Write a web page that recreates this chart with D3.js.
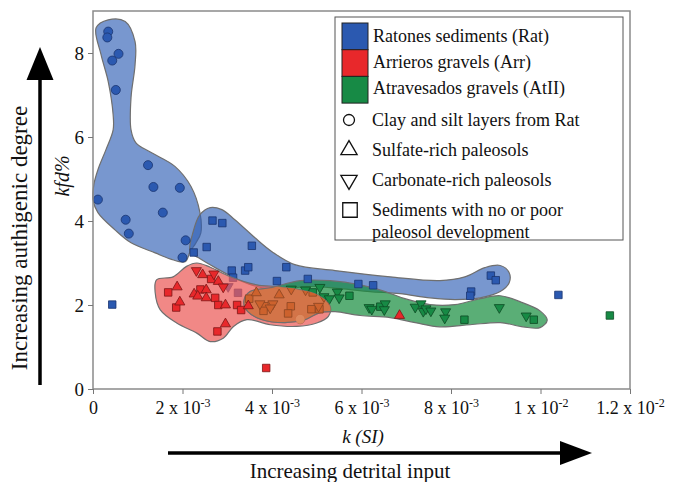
<!DOCTYPE html>
<html lang="en">
<head>
<meta charset="UTF-8">
<title>kfd% vs k</title>
<style>
    body { margin: 0; background: #fff; }
    svg { display: block; }
    svg text { font-family: "Liberation Serif", "Times New Roman", serif; fill: #111; }
    .hull { stroke: #6f6f6f; stroke-width: 1.2; }
</style>
</head>
<body>
<div id="chart"></div>
<script src="https://cdn.jsdelivr.net/npm/d3@7"></script>
<script>
// k in units of 10^-3 SI, kfd in %
const ratCircles = [[0.34,8.51],[0.32,8.37],[0.57,7.98],[0.43,7.82],[0.51,7.12],[1.23,5.33],[1.35,4.81],
    [1.94,4.79],[0.11,4.51],[1.56,4.20],[0.73,4.03],[0.80,3.70],[2.07,3.54],[2.00,3.13]];
const ratSquares = [[0.43,2.01],[2.67,4.01],[2.89,3.95],[2.54,3.38],[2.25,3.25],[3.55,3.41],[3.10,2.82],
    [3.40,2.82],[3.47,2.90],[4.32,2.90],[4.11,2.57],[4.80,2.62],[5.93,2.50],[6.26,2.47],[8.89,2.70],
    [9.00,2.59],[8.45,2.32],[8.43,2.22],[10.40,2.24],[3.13,2.65],[3.24,2.29]];
const ratDown = [[3.02,2.44]];

const arrSquares = [[1.68,2.30],[1.86,1.94],[2.40,2.37],[2.64,2.62],[2.73,2.17],[2.80,2.00],[3.22,2.00],
    [3.31,1.88],[2.78,1.37],[3.87,0.50]];
const arrUp = [[1.88,2.43],[1.94,2.07],[2.26,2.26],[2.34,2.21],[2.45,2.72],[2.53,2.36],[2.53,2.17],
    [2.80,2.56],[2.96,2.00],[2.96,1.55],[3.47,1.98],[6.85,1.75]];
const arrDown = [[2.31,2.82],[2.70,2.74],[2.91,2.43]];

const atSquares = [[4.91,2.30],[5.73,2.22],[6.42,1.96],[8.30,1.65],[9.85,1.65],[11.55,1.75],
    [3.49,2.15],[3.83,1.97],[3.81,1.86],[4.42,1.97],[4.36,1.80],[4.88,1.90],[5.06,1.90]];
const atDown = [[4.43,2.38],[4.75,2.36],[5.07,2.42],[5.16,2.20],[5.28,2.15],[5.46,2.31],[5.50,2.17],
    [6.17,1.94],[6.23,1.90],[6.53,2.03],[6.51,1.89],[7.20,1.95],[7.33,2.03],[7.38,1.85],[7.44,1.91],
    [7.55,1.86],[7.88,1.84],[7.86,1.69],[9.08,1.94],[9.68,1.74],[3.73,2.03],[4.02,2.03],[3.96,1.93],[5.04,1.97]];
const atUp = [[3.65,2.29],[4.16,2.24]];
const atCircles = [[4.63,1.66]];

// group outlines
const ratHullClay = [[0.07,8.60],[0.34,8.79],[0.72,8.75],[0.94,8.27],[0.94,7.72],[0.85,6.94],[0.85,6.17],
    [0.96,5.86],[1.30,5.63],[1.83,5.30],[2.19,4.82],[2.39,4.20],[2.41,3.72],[2.30,3.48],[2.17,3.27],
    [2.06,3.03],[1.72,3.10],[1.39,3.24],[0.85,3.48],[0.49,3.79],[0.11,4.20],[0.0,4.51],[0.02,4.87],
    [0.11,5.22],[0.29,5.70],[0.45,6.17],[0.45,6.53],[0.34,7.32],[0.18,7.96]];
const ratHullSed = [[2.17,3.27],[2.24,3.75],[2.39,4.15],[2.62,4.32],[2.88,4.27],[3.17,4.03],[3.62,3.60],
    [4.00,3.27],[4.51,2.96],[5.41,2.82],[6.64,2.67],[7.75,2.58],[8.31,2.67],[8.76,2.89],[9.10,2.94],
    [9.30,2.77],[9.30,2.53],[9.10,2.32],[8.65,2.17],[8.09,2.13],[7.53,2.17],[6.86,2.27],[6.19,2.32],
    [5.52,2.39],[4.85,2.44],[4.29,2.39],[3.78,2.41],[3.29,2.58],[2.73,2.89],[2.35,3.13]];
const arrHull = [[1.42,2.60],[1.79,2.67],[2.09,2.92],[2.32,3.00],[2.62,2.90],[3.06,2.68],[3.66,2.48],
    [4.11,2.44],[4.63,2.36],[5.00,2.25],[5.30,1.97],[5.26,1.73],[5.00,1.57],[4.55,1.49],[3.96,1.53],
    [3.44,1.65],[3.14,1.49],[2.91,1.21],[2.62,1.13],[2.32,1.33],[1.87,1.57],[1.50,1.89],[1.39,2.29]];
const atHull = [[3.37,2.08],[3.51,2.32],[3.96,2.41],[4.63,2.58],[5.30,2.58],[5.97,2.48],[6.53,2.32],
    [6.97,2.15],[7.53,2.01],[8.09,2.01],[8.65,2.15],[9.10,2.22],[9.54,2.08],[9.99,1.86],[10.15,1.64],
    [9.99,1.46],[9.61,1.48],[9.10,1.58],[8.43,1.53],[7.75,1.48],[7.20,1.58],[6.64,1.70],[5.97,1.75],
    [5.41,1.84],[5.07,1.82],[4.74,1.65],[4.29,1.58],[3.78,1.65],[3.46,1.84]];

const xTicks = [0, 2, 4, 6, 8, 10, 12];
const xTickLabels = [["0", ""], ["2 x 10", "-3"], ["4 x 10", "-3"], ["6 x 10", "-3"], ["8 x 10", "-3"],
    ["1 x 10", "-2"], ["1.2 x 10", "-2"]];
const yTicks = [0, 2, 4, 6, 8];

const legendGroups = ["Ratones sediments (Rat)", "Arrieros gravels (Arr)", "Atravesados gravels (AtII)"];
const legendShapes = ["Clay and silt layers from Rat", "Sulfate-rich paleosols", "Carbonate-rich paleosols",
    "Sediments with no or poor|paleosol development"];

const col = {
    rat: {hull: "rgb(47,95,181)", pt: "#2b59b0", st: "#1a3570", op: 0.65},
    arr: {hull: "rgb(236,90,88)", pt: "#e8282b", st: "#7c1515", op: 0.72},
    at:  {hull: "rgb(20,140,60)", pt: "#178a45", st: "#0d4a23", op: 0.7},
    mix: {hull: "rgb(218,118,62)", pt: "rgb(205,98,45)", st: "rgb(140,70,35)", op: 0.7}
};

const svg = d3.select("#chart").append("svg")
    .attr("width", 673)
    .attr("height", 482);

const x = d3.scaleLinear().domain([0, 12]).range([93, 630]);
const y = d3.scaleLinear().domain([0, 9]).range([389, 11]);

const hullLine = d3.line()
    .x(d => x(d[0]))
    .y(d => y(d[1]))
    .curve(d3.curveCatmullRomClosed.alpha(0.5));

function drawHull(pts, c) {
    return svg.append("path")
        .attr("class", "hull")
        .attr("d", hullLine(pts))
        .attr("fill", c.hull)
        .attr("fill-opacity", c.op);
}

const sym = {
    circle: d3.symbol().type(d3.symbolCircle).size(64),
    square: d3.symbol().type(d3.symbolSquare).size(56),
    tri: d3.symbol().type(d3.symbolTriangle).size(44)
};

function drawPoints(pts, shape, c, down) {
    const g = svg.append("g");
    g.selectAll("path")
        .data(pts)
        .enter().append("path")
        .attr("d", sym[shape]())
        .attr("transform", d => "translate(" + x(d[0]) + "," + y(d[1]) + ")" + (down ? " rotate(180)" : ""))
        .attr("fill", c.pt)
        .attr("stroke", c.st)
        .attr("stroke-width", 0.8);
    return g;
}

svg.append("defs").append("clipPath")
    .attr("id", "arrClip")
    .append("path")
    .attr("d", hullLine(arrHull));

// layers: Rat + AtII outlines, their points, then Arr on top
drawHull(ratHullClay, col.rat);
drawHull(ratHullSed, col.rat);
drawHull(atHull, col.at);

drawPoints(ratCircles, "circle", col.rat);
drawPoints(ratSquares, "square", col.rat);
drawPoints(ratDown, "tri", col.rat, true);
drawPoints(atCircles, "circle", col.at);
drawPoints(atSquares, "square", col.at);
drawPoints(atDown, "tri", col.at, true);
drawPoints(atUp, "tri", col.at);

drawHull(arrHull, col.arr);
// Arr / AtII overlap shows orange
drawHull(atHull, col.mix).attr("clip-path", "url(#arrClip)");
drawPoints(atSquares, "square", col.mix).attr("clip-path", "url(#arrClip)");
drawPoints(atDown, "tri", col.mix, true).attr("clip-path", "url(#arrClip)");
drawPoints(atUp, "tri", col.mix).attr("clip-path", "url(#arrClip)");
drawPoints(atCircles, "circle", {pt: "rgb(222,138,95)", st: "none"}).attr("clip-path", "url(#arrClip)");

drawPoints(arrSquares, "square", col.arr);
drawPoints(arrUp, "tri", col.arr);
drawPoints(arrDown, "tri", col.arr, true);

// frame
svg.append("rect")
    .attr("x", x(0)).attr("y", y(9))
    .attr("width", x(12) - x(0)).attr("height", y(0) - y(9))
    .attr("fill", "none")
    .attr("stroke", "#8a8a8a")
    .attr("stroke-width", 1.5);

const yAxis = svg.append("g")
    .attr("transform", "translate(" + x(0) + ",0)")
    .call(d3.axisLeft(y).tickValues(yTicks).tickSize(5).tickPadding(4));
yAxis.select(".domain").remove();
yAxis.selectAll(".tick line").attr("stroke", "#777");
yAxis.selectAll(".tick text")
    .style("font-family", '"Liberation Serif", serif')
    .style("font-size", "19px");

const xAxis = svg.append("g")
    .attr("transform", "translate(0," + y(0) + ")")
    .call(d3.axisBottom(x).tickValues(xTicks).tickSize(5).tickFormat(""));
xAxis.select(".domain").remove();
xAxis.selectAll(".tick line").attr("stroke", "#777");
xAxis.selectAll(".tick text").each(function(d, i) {
    const t = d3.select(this)
        .style("font-family", '"Liberation Serif", serif')
        .style("font-size", "18px")
        .attr("dy", "0.95em");
    t.append("tspan").text(xTickLabels[i][0]);
    if (xTickLabels[i][1]) {
        t.append("tspan").attr("dy", -7).style("font-size", "12px").text(xTickLabels[i][1]);
    }
});

// axis titles
svg.append("text")
    .attr("x", 363).attr("y", 443)
    .attr("text-anchor", "middle")
    .style("font-size", "19px")
    .style("font-style", "italic")
    .text("k (SI)");

svg.append("text")
    .attr("transform", "translate(69,176) rotate(-90)")
    .attr("text-anchor", "middle")
    .style("font-size", "20px")
    .style("font-style", "italic")
    .text("kfd%");

svg.append("text")
    .attr("transform", "translate(27,238) rotate(-90)")
    .attr("text-anchor", "middle")
    .style("font-size", "23px")
    .text("Increasing authigenic degree");

svg.append("text")
    .attr("x", 350).attr("y", 478)
    .attr("text-anchor", "middle")
    .style("font-size", "21px")
    .text("Increasing detrital input");

// arrows
svg.append("line").attr("x1", 40).attr("y1", 385).attr("x2", 40).attr("y2", 75)
    .attr("stroke", "#000").attr("stroke-width", 3.5);
svg.append("path").attr("d", "M40,47 L26.5,80 L53.5,80 Z").attr("fill", "#000");

svg.append("line").attr("x1", 168).attr("y1", 453).attr("x2", 565).attr("y2", 453)
    .attr("stroke", "#000").attr("stroke-width", 3.5);
svg.append("path").attr("d", "M592,453 L560,441 L560,465 Z").attr("fill", "#000");

// legend
const legend = svg.append("g");
legend.append("rect")
    .attr("x", 335).attr("y", 17).attr("width", 288).attr("height", 223)
    .attr("fill", "#fff").attr("stroke", "#555").attr("stroke-width", 1);

const groupCols = [col.rat.pt, col.arr.pt, col.at.pt];
legendGroups.forEach((g, i) => {
    legend.append("rect")
        .attr("x", 342).attr("y", 23 + i * 26.7)
        .attr("width", 26).attr("height", 26.7)
        .attr("fill", groupCols[i]).attr("stroke", "#222").attr("stroke-width", 1);
    legend.append("text")
        .attr("x", 373).attr("y", 42 + i * 26)
        .style("font-size", "18px")
        .text(g);
});

const shapeY = [120, 150, 180, 210];
const legSym = [
    d3.symbol().type(d3.symbolCircle).size(95)(),
    d3.symbol().type(d3.symbolTriangle).size(115)(),
    d3.symbol().type(d3.symbolTriangle).size(115)(),
    d3.symbol().type(d3.symbolSquare).size(210)()
];
legendShapes.forEach((s, i) => {
    legend.append("path")
        .attr("d", legSym[i])
        .attr("transform", "translate(" + (i === 3 ? 350 : 349) + "," + shapeY[i] + ")" + (i === 2 ? " rotate(180)" : ""))
        .attr("fill", "none").attr("stroke", "#111").attr("stroke-width", 1.3);
    const lines = s.split("|");
    lines.forEach((ln, j) => {
        legend.append("text")
            .attr("x", 372).attr("y", shapeY[i] + 6 + j * 22)
            .style("font-size", "18px")
            .text(ln);
    });
});
</script>
</body>
</html>
